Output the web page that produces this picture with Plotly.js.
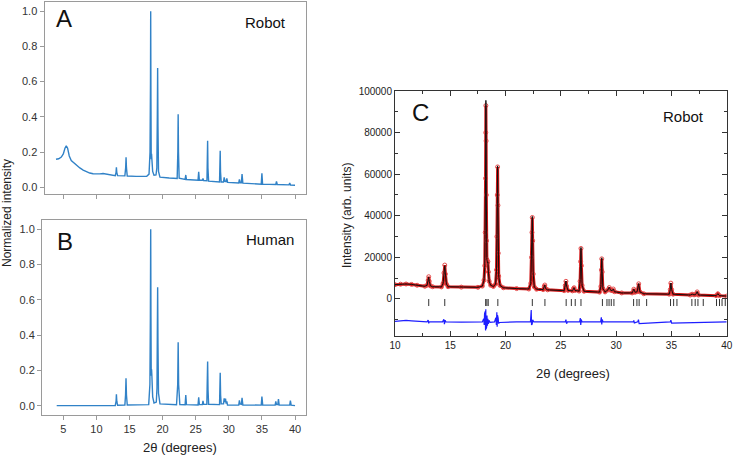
<!DOCTYPE html>
<html>
<head>
<meta charset="utf-8">
<script src="https://cdn.plot.ly/plotly-3.0.1.min.js"></script>
<style>html,body{margin:0;padding:0;background:#fff;}#chart{width:734px;height:456px;}</style>
</head>
<body>
<div id="chart"></div>
<script>
// Panel A (Robot) normalized pattern
var aTheta = [3.9,4.3,4.7,5.0,5.25,5.45,5.65,5.9,6.2,6.6,7.0,7.5,8.0,8.5,9.0,9.5,10.0,10.5,11.0,11.5,12.0,12.85,12.97,13.02,13.08,13.2,14.3,14.42,14.48,14.54,14.66,16.0,17.6,17.95,18.1,18.17,18.2,18.24,18.28,18.33,18.38,18.5,18.7,19.0,19.13,19.2,19.25,19.3,19.38,19.6,21.0,22.2,22.3,22.35,22.4,22.5,23.4,23.5,23.6,25.35,25.45,25.55,26.0,26.1,26.2,26.7,26.76,26.8,26.85,26.95,28.6,28.66,28.7,28.75,28.85,29.2,29.3,29.42,29.6,29.7,29.82,31.5,31.6,31.72,31.9,32.0,32.12,34.9,35.0,35.1,37.1,37.2,37.32,39.1,39.2,39.32,40.0];
var aInt = [0.159,0.162,0.172,0.19,0.222,0.236,0.222,0.178,0.152,0.138,0.124,0.11,0.098,0.088,0.081,0.077,0.075,0.076,0.078,0.074,0.07,0.066,0.085,0.113,0.085,0.066,0.065,0.11,0.17,0.11,0.064,0.062,0.063,0.075,0.2,0.6,1.0,0.5,0.16,0.19,0.16,0.09,0.068,0.07,0.11,0.4,0.677,0.35,0.09,0.058,0.053,0.05,0.2,0.415,0.2,0.052,0.045,0.07,0.044,0.04,0.088,0.04,0.04,0.05,0.038,0.037,0.12,0.264,0.11,0.035,0.03,0.1,0.207,0.09,0.03,0.03,0.057,0.033,0.032,0.05,0.028,0.025,0.045,0.026,0.026,0.075,0.024,0.018,0.079,0.018,0.016,0.034,0.016,0.014,0.024,0.013,0.012];

// Panel B (Human) normalized pattern
var bTheta = [4.0,12.85,12.97,13.02,13.08,13.2,14.3,14.4,14.47,14.54,14.66,17.9,18.08,18.15,18.2,18.24,18.28,18.33,18.38,18.5,18.7,19.05,19.15,19.2,19.25,19.3,19.38,19.6,22.1,22.28,22.35,22.42,22.6,23.4,23.5,23.6,25.35,25.45,25.55,26.0,26.1,26.2,26.68,26.75,26.8,26.86,26.95,28.6,28.65,28.7,28.76,28.85,29.2,29.3,29.4,29.5,29.6,29.7,29.8,31.5,31.6,31.7,31.9,32.0,32.12,34.9,35.0,35.12,37.0,37.1,37.2,37.4,37.5,37.6,39.2,39.3,39.42,40.0];
var bInt = [0,0.001,0.025,0.065,0.025,0.002,0.003,0.06,0.155,0.06,0.004,0.006,0.12,0.5,1.0,0.5,0.17,0.206,0.17,0.05,0.015,0.02,0.1,0.4,0.671,0.35,0.07,0.01,0.005,0.12,0.36,0.12,0.006,0.005,0.06,0.006,0.004,0.047,0.006,0.006,0.027,0.007,0.007,0.09,0.25,0.09,0.008,0.006,0.07,0.187,0.06,0.01,0.01,0.042,0.02,0.04,0.012,0.025,0.004,0.003,0.03,0.01,0.008,0.045,0.004,0.003,0.051,0.004,0.003,0.024,0.006,0.006,0.037,0.004,0.003,0.028,0.003,0];

// Panel C (Rietveld, Robot)
var cTheta = [10.0,10.5,11.0,11.5,12.0,12.7,12.9,13.0,13.05,13.1,13.2,13.4,14.2,14.35,14.43,14.5,14.56,14.65,14.8,16.0,17.5,17.9,18.05,18.12,18.16,18.19,18.21,18.22,18.24,18.26,18.28,18.31,18.36,18.4,18.45,18.52,18.65,18.9,19.1,19.18,19.22,19.25,19.28,19.31,19.34,19.38,19.5,19.8,21.0,22.1,22.28,22.35,22.39,22.42,22.45,22.5,22.6,22.8,23.4,23.5,23.55,23.62,23.8,25.3,25.4,25.46,25.52,25.65,26.05,26.15,26.2,26.28,26.65,26.74,26.79,26.82,26.86,26.92,27.1,28.5,28.62,28.67,28.7,28.74,28.8,29.0,29.25,29.38,29.5,29.65,29.74,29.85,30.5,31.45,31.6,31.72,31.9,32.04,32.15,32.5,34.8,34.9,34.95,35.02,35.15,36.7,36.88,37.05,37.2,37.33,37.45,39.05,39.2,39.35,40.0];
var cObs = [6900,7100,7200,7000,6600,6100,6600,9000,10700,8500,6300,5900,5800,7500,12500,16300,12000,7200,5900,5700,5600,6200,9000,16000,32000,58000,80000,93000,76000,50000,28000,19000,17500,18000,13000,8500,6600,6000,7200,14000,30000,50000,63500,45000,22000,11000,6500,5400,5000,4800,7500,20000,32000,39200,28000,12000,5800,4700,4500,6000,6700,5000,4400,4000,6500,8500,6200,4100,3900,5000,5400,4100,3800,8500,18000,24300,16000,6500,3700,3300,6000,14000,19300,13000,5000,3400,4300,5500,4200,4000,4800,3500,2900,2900,4700,3200,3500,7300,3400,2500,2300,4500,7600,4500,2300,1900,2300,2000,2200,3400,1900,1600,2500,1600,1400];
var cCalc = [6900,7100,7200,7000,6600,6100,6600,9000,10500,8500,6300,5900,5800,7500,12500,16000,12000,7200,5900,5700,5600,6200,9000,16000,32000,58000,80000,95500,76000,50000,28000,19000,17500,17800,13000,8500,6600,6000,7200,14000,30000,50000,64000,45000,22000,11000,6500,5400,5000,4800,7500,20000,32000,39700,28000,12000,5800,4700,4500,6000,6700,5000,4400,4000,6500,8600,6200,4100,3900,5000,5400,4100,3800,8500,18000,24800,16000,6500,3700,3300,6000,14000,19800,13000,5000,3400,4300,5600,4200,4000,4800,3500,2900,2900,4700,3200,3500,7400,3400,2500,2300,4500,7700,4500,2300,1900,2300,2000,2200,3500,1900,1600,2500,1600,1400];
var cDiffX = [10.0,10.5,11.0,11.5,12.0,12.9,13.0,13.05,13.1,14.3,14.42,14.47,14.53,14.6,16.0,17.9,18.02,18.07,18.1,18.13,18.16,18.19,18.21,18.23,18.26,18.29,18.32,18.36,18.4,18.45,18.5,18.6,19.0,19.12,19.17,19.21,19.24,19.27,19.3,19.33,19.37,19.45,21.0,22.25,22.32,22.35,22.38,22.41,22.45,22.55,23.5,25.4,25.46,25.52,25.6,26.7,26.76,26.8,26.84,26.92,28.6,28.66,28.7,28.74,28.82,31.55,31.6,31.65,31.95,32.02,32.08,34.9,34.95,35.02,40.0];
var cDiffY = [-10800,-10600,-10300,-10500,-10800,-11000,-10100,-11700,-11000,-11000,-9800,-12100,-10200,-11000,-11100,-11000,-9500,-12500,-7000,-14000,-6000,-15200,-5000,-14500,-6500,-13500,-8000,-12800,-9500,-12000,-10300,-11200,-11000,-9000,-12500,-6400,-13300,-7800,-12600,-9200,-11800,-11300,-11000,-11000,-5300,-12500,-7500,-12000,-10000,-11000,-11000,-11000,-9900,-11900,-11000,-11000,-9200,-12500,-9800,-11000,-11000,-8800,-12300,-9800,-11000,-11000,-10300,-11500,-11000,-9900,-11800,-11000,-10200,-11600,-11000];
var cRefl = [13.05,14.5,18.2,18.31,18.43,19.3,22.42,23.56,25.48,25.95,26.3,26.82,28.76,29.17,29.36,29.56,29.8,31.58,31.88,32.08,32.76,34.92,35.2,35.5,36.85,37.15,37.4,37.88,39.08,39.35,39.58,39.87];

var W = 734, H = 456;
function px(x){ return x / W; }
function py(y){ return 1 - y / H; }
var FONT = 'Liberation Sans, Arial, sans-serif';
var blue = 'rgb(49,130,199)';
var reflY = cRefl.map(function(){ return -1700; });

var traces = [
  {x: aTheta, y: aInt, xaxis: 'x', yaxis: 'y', mode: 'lines', line: {color: blue, width: 1.4}, hoverinfo: 'skip'},
  {x: bTheta, y: bInt, xaxis: 'x2', yaxis: 'y2', mode: 'lines', line: {color: blue, width: 1.4}, hoverinfo: 'skip'},
  {x: cTheta, y: cObs, xaxis: 'x3', yaxis: 'y3', mode: 'lines+markers',
   line: {color: 'rgb(210,20,20)', width: 3},
   marker: {symbol: 'circle-open', size: 4, color: 'rgb(225,60,60)', line: {width: 0.9, color: 'rgb(225,60,60)'}}, hoverinfo: 'skip'},
  {x: cTheta, y: cCalc, xaxis: 'x3', yaxis: 'y3', mode: 'lines', line: {color: '#111', width: 1}, hoverinfo: 'skip'},
  {x: cDiffX, y: cDiffY, xaxis: 'x3', yaxis: 'y3', mode: 'lines', line: {color: 'rgb(30,30,255)', width: 1.2}, hoverinfo: 'skip'},
  {x: cRefl, y: reflY, xaxis: 'x3', yaxis: 'y3', mode: 'markers',
   marker: {symbol: 'line-ns', size: 5, color: '#333', line: {width: 1, color: '#333'}}, hoverinfo: 'skip'}
];

var abAxisCommon = {showgrid: false, zeroline: false, showline: true, linecolor: '#9a9a9a', linewidth: 1, mirror: true,
  ticks: 'outside', ticklen: 4, tickcolor: '#9a9a9a', tickfont: {family: FONT, size: 11, color: '#333'}};
function merge(a, b){ var o = {}; for (var k in a) o[k] = a[k]; for (var k2 in b) o[k2] = b[k2]; return o; }

var cAxisCommon = {showgrid: false, zeroline: false, showline: true, linecolor: '#333', linewidth: 1, mirror: 'allticks',
  ticks: 'inside', ticklen: 5, tickcolor: '#333', tickfont: {family: FONT, size: 10, color: '#222'}};

var layout = {
  width: W, height: H,
  margin: {l: 0, r: 0, t: 0, b: 0},
  paper_bgcolor: '#fff', plot_bgcolor: '#fff',
  showlegend: false,
  xaxis: merge(abAxisCommon, {domain: [px(44.5), px(306)], range: [2.16, 41.66], anchor: 'y', tick0: 5, dtick: 5, showticklabels: false}),
  yaxis: merge(abAxisCommon, {domain: [py(194), py(1.5)], range: [-0.038, 1.055], anchor: 'x', tick0: 0, dtick: 0.2, tickformat: '.1f'}),
  xaxis2: merge(abAxisCommon, {domain: [px(42), px(306)], range: [1.78, 41.66], anchor: 'y2', tick0: 5, dtick: 5}),
  yaxis2: merge(abAxisCommon, {domain: [py(415), py(220)], range: [-0.053, 1.053], anchor: 'x2', tick0: 0, dtick: 0.2, tickformat: '.1f'}),
  xaxis3: merge(cAxisCommon, {domain: [px(395), px(726.7)], range: [10, 40], anchor: 'y3', tick0: 10, dtick: 5,
    minor: {dtick: 2.5, ticks: 'inside', ticklen: 3, tickcolor: '#333'}}),
  yaxis3: merge(cAxisCommon, {domain: [py(336), py(91)], range: [-17800, 100000], anchor: 'x3', tick0: 0, dtick: 20000, tickformat: 'd',
    minor: {dtick: 10000, ticks: 'inside', ticklen: 3, tickcolor: '#333'}}),
  annotations: [
    {text: 'A', x: px(64), y: py(19), font: {family: FONT, size: 24, color: '#111'}},
    {text: 'Robot', x: px(265.5), y: py(22), font: {family: FONT, size: 15, color: '#111'}},
    {text: 'B', x: px(64.5), y: py(241), font: {family: FONT, size: 24, color: '#111'}},
    {text: 'Human', x: px(270), y: py(239), font: {family: FONT, size: 15, color: '#111'}},
    {text: 'C', x: px(420), y: py(113), font: {family: FONT, size: 24, color: '#111'}},
    {text: 'Robot', x: px(683), y: py(116), font: {family: FONT, size: 15, color: '#111'}},
    {text: 'Normalized intensity', x: px(7), y: py(213), textangle: -90, font: {family: FONT, size: 12, color: '#222'}},
    {text: '2θ (degrees)', x: px(180), y: py(447), font: {family: FONT, size: 13, color: '#222'}},
    {text: '2θ (degrees)', x: px(573), y: py(373), font: {family: FONT, size: 13, color: '#222'}},
    {text: 'Intensity (arb. units)', x: px(347), y: py(216), textangle: -90, font: {family: FONT, size: 12, color: '#222'}}
  ].map(function(a){ a.xref = 'paper'; a.yref = 'paper'; a.showarrow = false; a.xanchor = 'center'; a.yanchor = 'middle'; return a; })
};

Plotly.newPlot('chart', traces, layout, {staticPlot: true, displayModeBar: false});
</script>
</body>
</html>
